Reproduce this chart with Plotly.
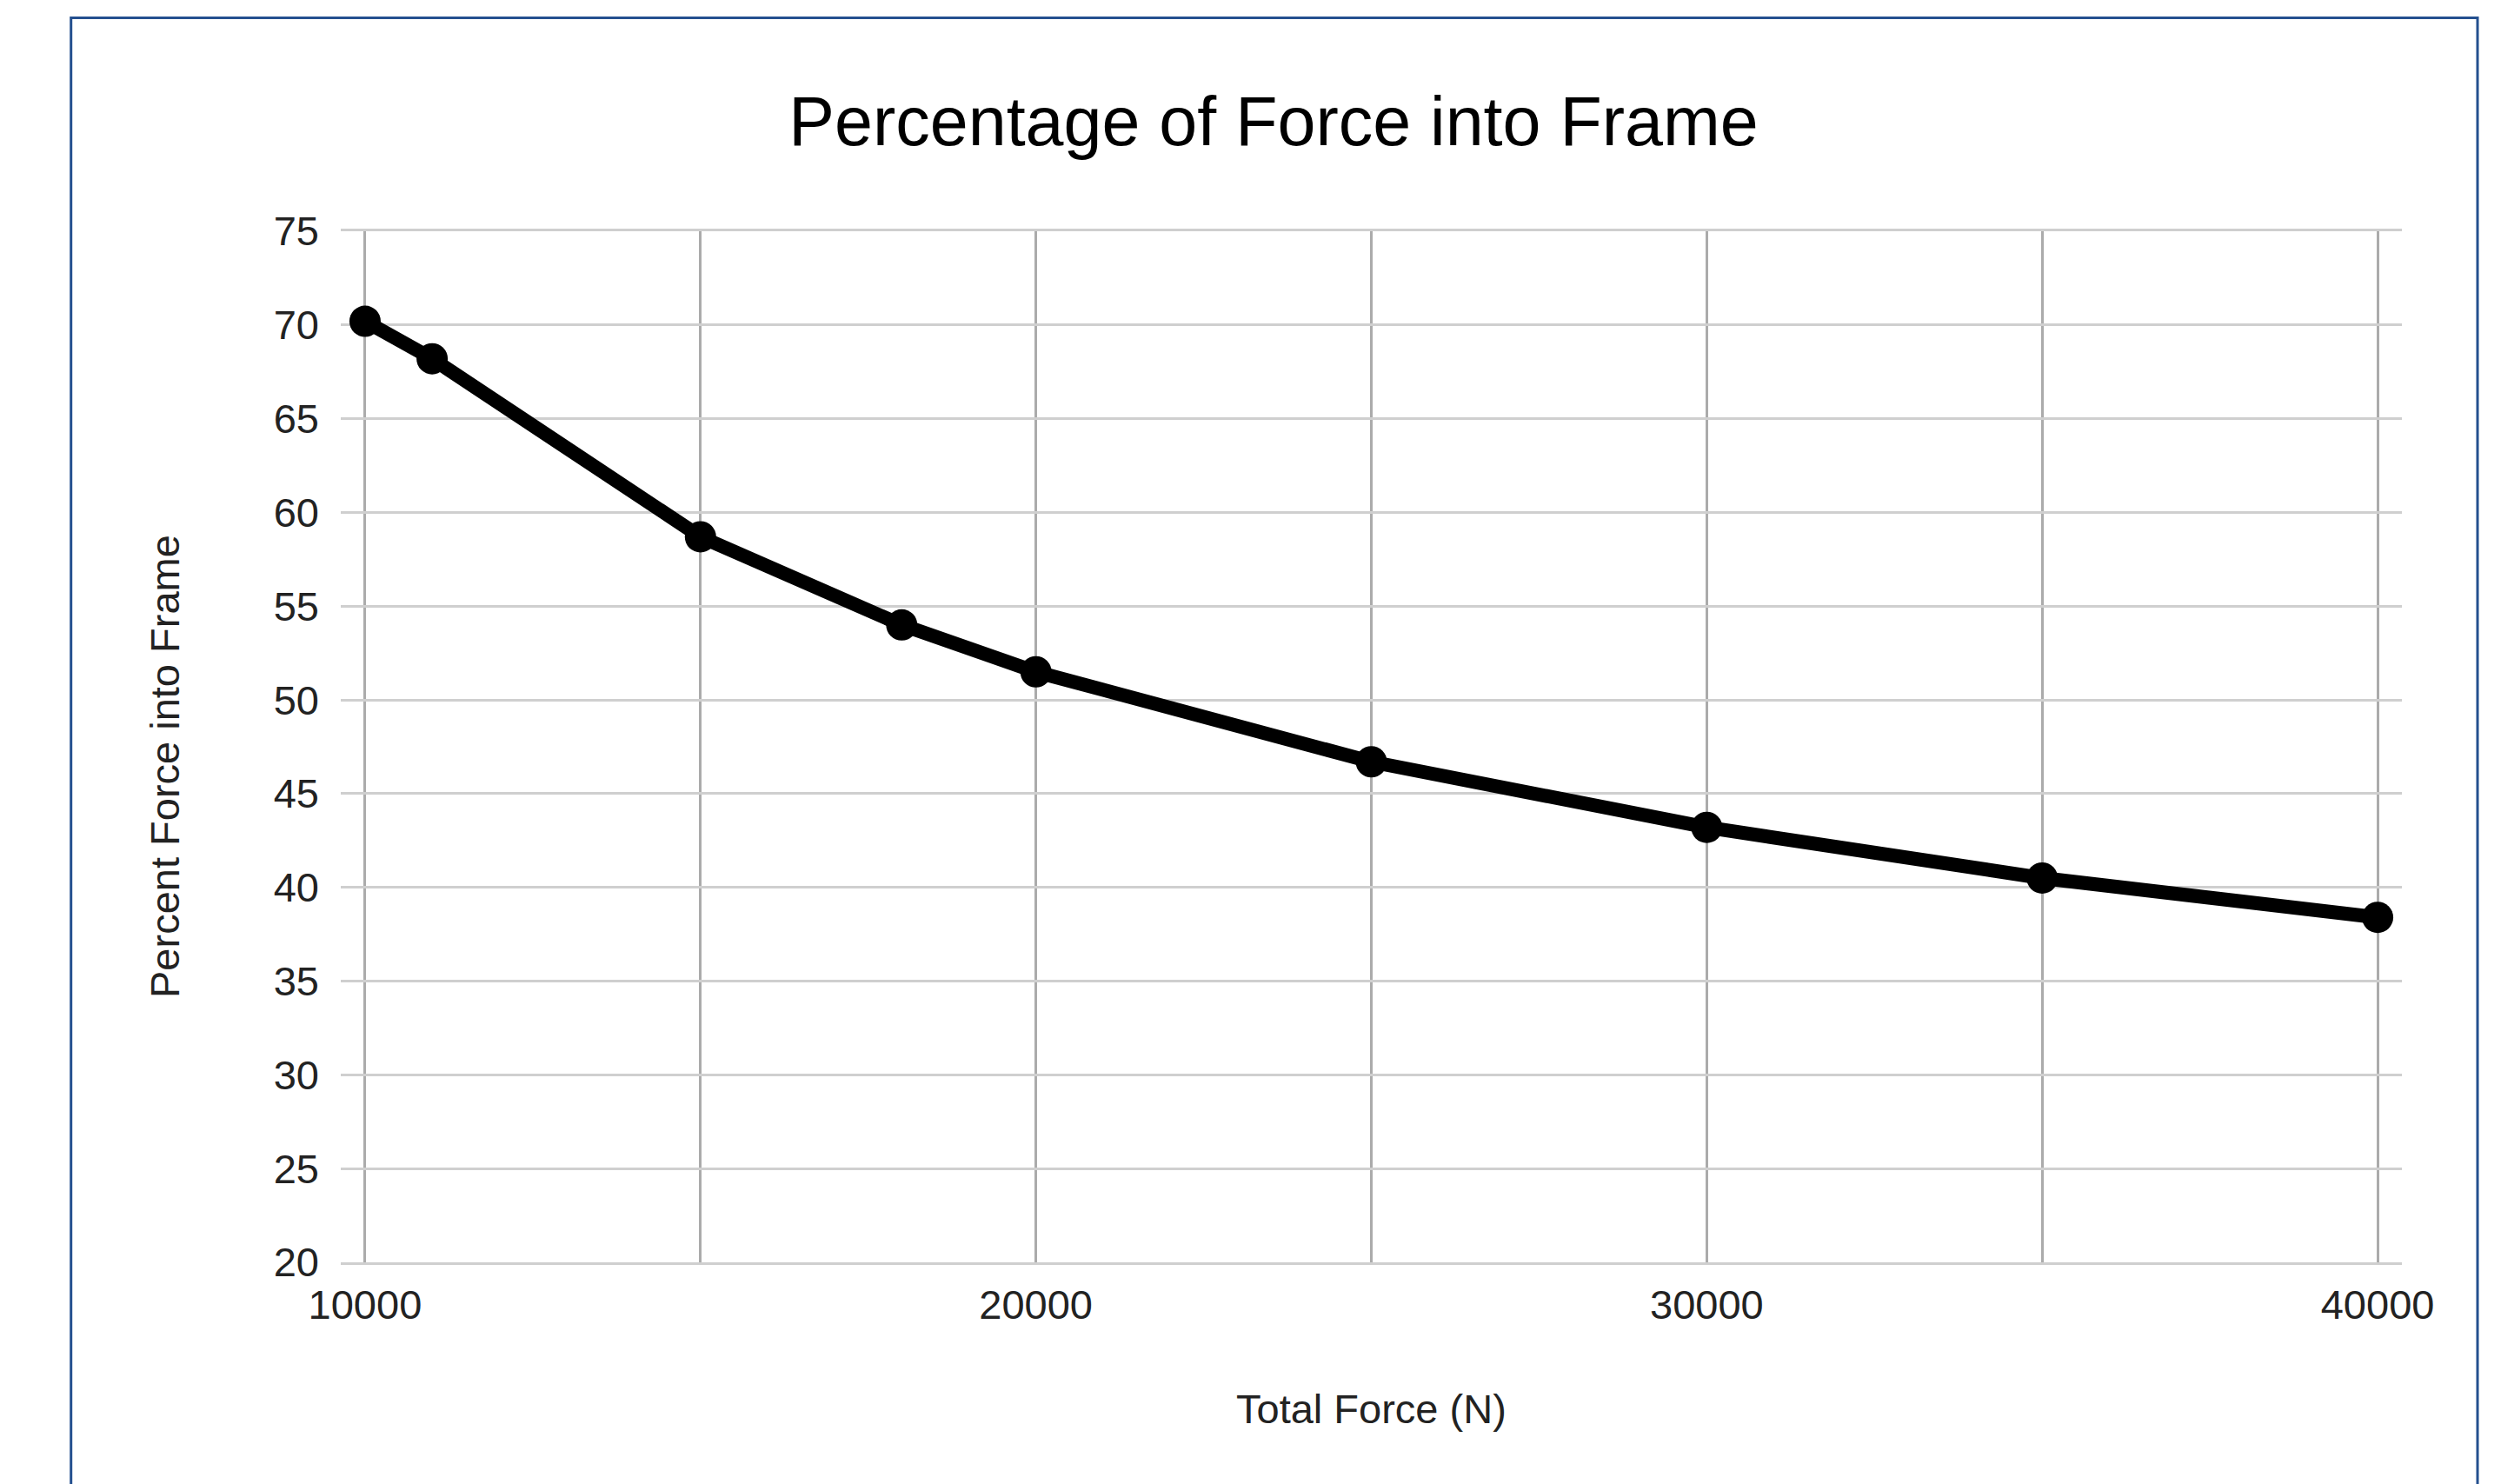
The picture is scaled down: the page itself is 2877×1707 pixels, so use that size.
import plotly.graph_objects as go

# Data
total_force = [10000, 11000, 15000, 18000, 20000, 25000, 30000, 35000, 40000]
percent_force = [70.2, 68.2, 58.7, 54.0, 51.5, 46.7, 43.2, 40.5, 38.4]
x_tick_vals = [10000, 20000, 30000, 40000]
x_tick_text = ["10000", "20000", "30000", "40000"]
y_tick_vals = [20, 25, 30, 35, 40, 45, 50, 55, 60, 65, 70, 75]

OFF = 8  # page body margin of the html page
W, H = 2877 - OFF, 1707 - OFF
# plot area in page pixels: left 392, right 2763, top 266, bottom 1452
PL, PR, PT, PB = 392, 2763, 266, 1452
ML = PL - OFF
MT = PT - OFF
MR = W - (PR - OFF)
MB = H - (PB - OFF)
PW = PR - PL
PH = PB - PT

FONT = "Liberation Sans, Arial, sans-serif"

fig = go.Figure()
fig.add_trace(go.Scatter(
    x=total_force, y=percent_force, mode="lines+markers",
    line=dict(color="#000000", width=16),
    marker=dict(color="#000000", size=36),
    showlegend=False, hoverinfo="x+y",
))

def px_x(p):  # page pixel -> paper x
    return (p - PL) / PW

def px_y(p):  # page pixel -> paper y
    return (PB - p) / PH

fig.update_layout(
    width=W, height=H, autosize=False,
    margin=dict(l=ML, r=MR, t=MT, b=MB, pad=0),
    paper_bgcolor="#ffffff", plot_bgcolor="#ffffff",
    font=dict(family=FONT, color="#222222", size=47),
    title=dict(text="Percentage of Force into Frame", xref="container", yref="container",
               x=(1465 - OFF) / W, y=1 - (139 - OFF) / H, xanchor="center", yanchor="middle",
               font=dict(family=FONT, size=79, color="#000000")),
    xaxis=dict(range=[9638, 40362], tickvals=x_tick_vals, ticktext=x_tick_text,
               showgrid=True, gridcolor="#ababab", gridwidth=3,
               minor=dict(tickvals=[15000, 25000, 35000], showgrid=True,
                          gridcolor="#ababab", gridwidth=3),
               zeroline=False, showline=True, mirror=True, linecolor="#cfcfcf", linewidth=3,
               ticks="", ticklabelstandoff=6,
               tickfont=dict(family=FONT, size=47, color="#222222")),
    yaxis=dict(range=[20, 75], tickvals=y_tick_vals,
               showgrid=True, gridcolor="#cfcfcf", gridwidth=3,
               zeroline=False, showline=False,
               ticks="", ticklabelstandoff=24,
               tickfont=dict(family=FONT, size=47, color="#222222")),
    shapes=[dict(type="rect", xref="paper", yref="paper",
                 x0=px_x(81.7), x1=px_x(2850), y0=px_y(1740), y1=px_y(20.5),
                 line=dict(color="#24508f", width=3), fillcolor="rgba(0,0,0,0)",
                 layer="below")],
    annotations=[
        dict(text="Total Force (N)", xref="paper", yref="paper",
             x=0.5, y=px_y(1620), xanchor="center", yanchor="middle",
             showarrow=False, font=dict(family=FONT, size=47, color="#222222")),
        dict(text="Percent Force into Frame", xref="paper", yref="paper",
             x=px_x(189), y=px_y(882), xanchor="center", yanchor="middle",
             textangle=-90, showarrow=False,
             font=dict(family=FONT, size=47, color="#222222")),
    ],
)

fig.write_html("out.html")
